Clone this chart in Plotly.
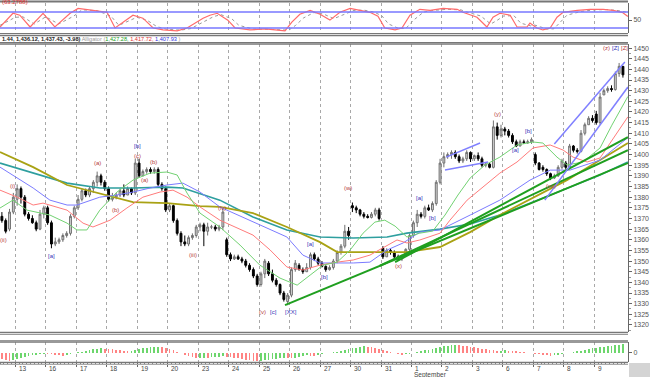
import plotly.graph_objects as go

# ---------------- data ----------------
day_labels = ["13", "16", "17", "18", "19", "20", "23", "24", "25", "26", "27",
              "30", "31", "1", "2", "3", "6", "7", "8", "9"]
month_label = "September"
month_label_day = 13          # index in day_labels where September starts
bars_per_day = 8
first_day_bar = 4

opens = [1371, 1369, 1365, 1373, 1379, 1384, 1380, 1372, 1370, 1368,
         1365, 1372, 1375, 1368, 1358, 1359, 1360, 1362, 1363, 1371,
         1375, 1379, 1383, 1381, 1384, 1387, 1390, 1387, 1384, 1379,
         1380, 1381, 1383, 1381, 1384, 1382, 1396, 1390, 1392, 1393,
         1392, 1393, 1386, 1384, 1374, 1376, 1369, 1363, 1359, 1358,
         1361, 1362, 1366, 1367, 1364, 1366, 1366, 1365, 1366, 1360,
         1353, 1351, 1352, 1351, 1350, 1348, 1346, 1343, 1339, 1344,
         1349, 1344, 1341, 1339, 1335, 1331, 1334, 1346, 1348, 1346,
         1345, 1347, 1353, 1351, 1349, 1347.5, 1346, 1347, 1350, 1354,
         1357, 1364, 1376, 1375, 1374, 1372, 1371, 1370.5, 1372, 1374,
         1356, 1352, 1355, 1354, 1352, 1351, 1352.5, 1355.5, 1362, 1368,
         1372, 1371, 1375, 1374, 1377, 1387, 1396, 1399, 1400, 1401,
         1399, 1397, 1398, 1401, 1398, 1399.5, 1398, 1395, 1395.5, 1394,
         1413, 1409, 1412, 1411, 1409, 1406, 1404, 1406, 1405.5, 1406,
         1400, 1396, 1394, 1393, 1391, 1389, 1390, 1394, 1396, 1394,
         1404, 1402, 1401.5, 1410, 1414, 1417, 1419, 1415, 1428, 1430,
         1431, 1430.5, 1438, 1441.41]
highs = [1373, 1370, 1374.5, 1382, 1386, 1385, 1381, 1373, 1371.5, 1369,
         1374, 1376, 1376, 1369, 1361, 1361, 1363, 1364, 1372, 1376,
         1381, 1384, 1384, 1385, 1388, 1392, 1391, 1388, 1385, 1382,
         1382, 1384, 1386, 1385, 1384.5, 1398, 1398, 1393, 1394, 1394,
         1394, 1394, 1387, 1385, 1377, 1376.5, 1370, 1364, 1362, 1362,
         1363, 1367, 1368, 1368, 1368, 1367, 1367, 1367, 1375, 1361,
         1354, 1353, 1353, 1352, 1351, 1349, 1347, 1344, 1345, 1351,
         1350, 1346, 1342, 1339.5, 1336, 1335, 1347, 1350.5, 1349, 1347,
         1349, 1354, 1354, 1352, 1350, 1348, 1348, 1351, 1355, 1358,
         1367, 1366, 1377.5, 1376, 1374.5, 1373, 1372, 1373, 1375, 1375,
         1357, 1356, 1356, 1355, 1353, 1353, 1356, 1363, 1369, 1374,
         1373, 1376, 1376.5, 1378, 1388, 1398, 1401, 1401, 1402, 1402,
         1400, 1399, 1402, 1401.5, 1400, 1401, 1399, 1396, 1396, 1416,
         1415, 1414, 1413, 1412, 1410, 1407, 1407, 1407, 1407, 1408,
         1401, 1396.5, 1395, 1393.5, 1391.5, 1391, 1395, 1398, 1397, 1405,
         1404.5, 1403, 1411.5, 1415, 1418, 1418.5, 1420.5, 1429, 1431, 1432,
         1432.5, 1439, 1443, 1441.44]
lows = [1368, 1363, 1364, 1372, 1376, 1377, 1371, 1369, 1367.5, 1364,
        1364.5, 1370, 1367, 1356, 1357, 1358, 1359, 1361, 1362, 1370,
        1374, 1378, 1380, 1380, 1382, 1385, 1385.5, 1383, 1378, 1378,
        1379, 1380, 1380, 1381, 1381, 1381, 1389, 1390, 1391, 1391,
        1391, 1385, 1383, 1373, 1373, 1368, 1362, 1357, 1357, 1357,
        1360, 1361, 1364, 1357, 1362, 1365, 1364, 1364, 1364.5, 1352,
        1350, 1350.5, 1350.5, 1349, 1347, 1345, 1342, 1338, 1338, 1342,
        1343, 1340, 1338, 1334, 1331, 1329.3, 1333, 1345, 1345.5, 1344,
        1345, 1346, 1350, 1348, 1347, 1345, 1345.5, 1346, 1349, 1353,
        1356, 1360, 1373, 1372.5, 1371, 1370, 1370, 1370, 1371, 1369,
        1351, 1352, 1353, 1351, 1350.5, 1350, 1352, 1354, 1361, 1366,
        1370, 1370, 1373.5, 1373, 1376, 1386, 1394, 1398, 1398, 1398,
        1396, 1396, 1397, 1396.5, 1397, 1397, 1394, 1394, 1393.5, 1393.5,
        1407, 1408, 1409, 1408, 1405, 1403.5, 1404, 1405, 1405, 1405,
        1395, 1392.5, 1392, 1390, 1388, 1388.5, 1389.5, 1393, 1393, 1393,
        1401, 1400.5, 1401, 1409, 1414, 1415, 1414, 1414, 1428, 1429,
        1429.5, 1430, 1436.5, 1436.12]
closes = [1369, 1364, 1373, 1380, 1384, 1380, 1372, 1370, 1368, 1365,
          1372, 1375, 1368, 1358, 1359, 1360, 1362, 1363, 1371, 1375,
          1379, 1383, 1381, 1384, 1387, 1390, 1387, 1384, 1379, 1380,
          1381, 1383, 1381, 1384, 1382, 1396, 1390, 1392, 1393, 1392,
          1393, 1386, 1384, 1374, 1376, 1369, 1363, 1359, 1358, 1361,
          1362, 1366, 1367, 1364, 1366, 1366, 1365, 1366, 1373, 1353,
          1351, 1352, 1351, 1350, 1348, 1346, 1343, 1339, 1344, 1350,
          1344, 1341, 1339, 1335, 1332, 1334, 1346, 1349, 1346, 1345,
          1347, 1353, 1351, 1349, 1347.5, 1346, 1347, 1350, 1354, 1357,
          1364, 1362, 1375, 1374, 1372, 1371, 1370.5, 1372, 1374, 1370,
          1352, 1355, 1354, 1352, 1351, 1352.5, 1355.5, 1362, 1368, 1372,
          1371, 1375, 1374, 1377, 1387, 1396, 1399, 1400, 1401, 1399,
          1397, 1398, 1401, 1398, 1399.5, 1398, 1395, 1395.5, 1394, 1413,
          1409, 1412, 1411, 1409, 1406, 1404, 1406, 1405.5, 1406, 1407,
          1396, 1393, 1393, 1391, 1389, 1390, 1394, 1397, 1394, 1404,
          1402, 1401.5, 1410, 1414, 1417, 1416, 1415, 1427, 1430, 1431,
          1430.5, 1438, 1441.41, 1437.43]

# moving averages: (bar position, price)
ma_olive_x = [-0.5, 8.2, 17.1, 25.7, 34.4, 43.3, 52, 57.2, 65.9, 74.8, 83.5, 88, 92.2,
              101.1, 106.3, 115, 122.9, 130.7, 139.4, 148.3, 157, 164.3]
ma_olive_y = [1401.2, 1394.1, 1385.7, 1381.9, 1377.7, 1377.2, 1375.8, 1375.4, 1372.5, 1366,
              1358.9, 1354.2, 1354.2, 1354.2, 1354.2, 1356.6, 1363.6, 1371.6, 1379.6, 1388,
              1397.4, 1405.4]
ma_teal_x = [-0.5, 8.2, 17.1, 25.7, 34.4, 43.3, 47.5, 57.2, 65.9, 74.8, 83.5, 92.2, 101.1,
             106.3, 115, 122.9, 130.7, 139.4, 148.3, 157, 164.3]
ma_teal_y = [1396, 1391.3, 1386.6, 1384.3, 1384.3, 1384.7, 1384.3, 1378.6, 1370.7, 1364.6,
             1361.3, 1360.8, 1361.3, 1363.1, 1365, 1367.4, 1371.6, 1377.7, 1384.3, 1390.4,
             1396.5]
# Alligator: jaw (blue), teeth (red), lips (green)
jaw_x = [-0.5, 4, 8.2, 12.6, 17.1, 19.7, 25.7, 30.2, 34.4, 38.9, 43.3, 47.5, 52, 57.2,
         65.9, 74.8, 79, 83.5, 92.2, 96.6, 101.1, 105.3, 109.7, 115, 122.9, 130.7, 138.6,
         143.9, 149.1, 157, 164.3]
jaw_y = [1394.1, 1389, 1384.3, 1378.6, 1376.3, 1376.3, 1380, 1381, 1382.4, 1384.3, 1385.7,
         1386.6, 1382.4, 1375.4, 1368.3, 1361.3, 1352.8, 1349.1, 1349.1, 1349.5, 1355.2,
         1358.5, 1363.6, 1364.6, 1371.6, 1378.6, 1388, 1392.7, 1392.7, 1397.4, 1407.93]
teeth_x = [-0.5, 4, 8.2, 10.8, 17.1, 21.3, 23.9, 28.4, 32.8, 37, 41.5, 44.9, 48.6, 52,
           57.2, 65.9, 70.4, 74.8, 79, 83.5, 88, 92.2, 96.6, 101.1, 103.7, 106.3, 109.7,
           115, 117.6, 122.1, 126.3, 130.7, 135.2, 139.4, 143.9, 147.3, 149.9, 153.6, 157,
           160.1, 164.3]
teeth_y = [1383.3, 1380, 1376.3, 1377.2, 1373.9, 1367.8, 1366, 1369.2, 1374.9, 1380,
           1382.4, 1383.3, 1380, 1375.4, 1369.2, 1362.2, 1355.2, 1347.2, 1345.8, 1348.1,
           1349.5, 1350.5, 1352.8, 1357.5, 1359.9, 1358.5, 1359.9, 1363.1, 1369.2, 1378.6,
           1384.7, 1391.3, 1396.5, 1403.1, 1404.5, 1402.1, 1398.8, 1396.5, 1398.4, 1406.8,
           1417.72]
lips_x = [-0.5, 2.9, 6.6, 12.6, 17.1, 19.7, 22.3, 25.7, 30.2, 34.4, 38.9, 43.3, 46, 48.6,
          52, 57.2, 62.5, 67.7, 73, 77.5, 80.9, 84.3, 88, 91.4, 94.8, 97.9, 100.5, 103.2,
          106.3, 109.7, 113.1, 116.3, 119.7, 122.9, 126.8, 130.7, 135.2, 139.4, 142, 145.7,
          148.3, 152.5, 157, 160.1, 164.3]
lips_y = [1374.9, 1378.6, 1373.9, 1371.6, 1367.8, 1364.6, 1364.6, 1373.9, 1382.4, 1388,
          1391.3, 1391.8, 1390.4, 1381.9, 1372.5, 1366, 1357.5, 1348.1, 1342, 1338.7,
          1343.4, 1348.1, 1349.5, 1355.2, 1363.1, 1368.3, 1369.2, 1366.4, 1361.3, 1363.1,
          1364.1, 1371.6, 1381, 1389, 1395.1, 1398.8, 1404.5, 1405.9, 1405.4, 1398.8,
          1395.1, 1396.5, 1403.1, 1413.8, 1427.28]

# drawn trend lines (bar, price) pairs
trend_green = [((74.3, 1329.3), (164.3, 1396.0)),
               ((103.2, 1349.5), (164.3, 1408.2)),
               ((99.2, 1347.8), (164.3, 1402.1))]
channel_blue = [((145.0, 1405.0), (163.5, 1443.4)),
                ((142.5, 1378.6), (164.3, 1431.7))]
wedge_blue = [((116.6, 1398.8), (125.5, 1405.4)),
              ((116.3, 1392.7), (127.6, 1396.5))]

# wave labels: text, bar, price, kind (r = red count, b = blue count)
wave_labels = [("(i)", 2.65, 1385.2, "r"), ("(ii)", 0.3, 1359.9, "r"),
               ("[a]", 13.1, 1352.3, "b"), ("(a)", 25.2, 1396.0, "r"),
               ("(b)", 29.7, 1373.9, "r"), ("[b]", 35.5, 1404.0, "b"),
               ("(c)", 35.7, 1399.3, "r"), ("(a)", 37.3, 1388.0, "r"),
               ("(b)", 39.9, 1396.5, "r"), ("(iii)", 50.2, 1352.8, "r"),
               ("(iv)", 57.8, 1374.9, "r"), ("(v)", 68.3, 1326.0, "r"),
               ("[c]", 71.2, 1326.0, "b"), ("[XX]", 75.9, 1326.0, "b"),
               ("[a]", 80.9, 1358.0, "b"), ("[b]", 84.8, 1342.5, "b"),
               ("(w)", 90.8, 1384.3, "r"), ("(x)", 104.0, 1347.7, "r"),
               ("[a]", 109.7, 1379.6, "b"), ("[b]", 113.1, 1370.2, "b"),
               ("(y)", 130.0, 1419.0, "r"), ("[a]", 134.7, 1402.1, "b"),
               ("[b]", 138.3, 1411.0, "b"), ("(xx)", 144.1, 1385.2, "r"),
               ("(z)", 158.6, 1450.0, "r"), ("[Z]", 161.0, 1450.0, "b"),
               ("[Z]", 163.5, 1450.0, "r")]

# oscillator (top panel)
osc_x = [-0.5, 2.9, 4.7, 7.4, 10.8, 13.9, 17.9, 20, 23.9, 27.6, 29.7, 31.8, 34.4, 37,
         39.7, 42.3, 46, 48.6, 51.2, 52.8, 54.6, 56.5, 59.3, 61.2, 65.1, 69.1, 71.7, 74.3,
         76.1, 78.2, 80.9, 83.5, 86.1, 88.7, 91.4, 94, 96.6, 98.7, 100.5, 103.2, 105, 107.1,
         109.7, 112.4, 115.8, 119.5, 121, 124.7, 127.3, 128.9, 130.7, 133.4, 135.2, 137.8,
         138.6, 140.4, 142, 143.9, 145.7, 147.3, 151, 154.4, 157.8, 160.4, 162.8, 164.3]
osc_y = [23.7, 75.2, 67.9, 23.7, 75.2, 23.7, 75.2, 93.6, 86.2, 78.9, 20.1, 42.1, 67.9, 56.8,
         20.1, 12.7, 9, 20.1, 42.1, 56.8, 67.9, 75.2, 49.5, 20.1, 12.7, 16.4, 12.7, 9, 42.1,
         71.5, 86.2, 71.5, 49.5, 78.9, 93.6, 86.2, 78.9, 64.2, 20.1, 12.7, 20.1, 67.9, 90,
         86.2, 93.6, 90, 78.9, 60.5, 23.7, 60.5, 75.2, 67.9, 23.7, 23.7, 38.4, 20.1, 12.7,
         20.1, 60.5, 78.9, 86.2, 90, 90, 86.2, 78.9, 63.3]
osc_sig_x = [-0.5, 3.5, 5.5, 8.5, 11.5, 14.9, 18.9, 21, 25, 28.6, 30.7, 33, 35.4, 38, 40.7,
             43.3, 47, 49.6, 52.2, 54, 55.6, 57.5, 60.3, 62.2, 66, 70, 73, 75.3, 77.1, 79.2,
             81.9, 84.5, 87.1, 89.7, 92.4, 95, 97.6, 99.7, 101.5, 104.2, 106, 108.1, 110.7,
             113.4, 116.8, 120.5, 122, 125.7, 128.3, 129.9, 131.7, 134.4, 136.2, 138.8,
             139.6, 141.4, 143, 144.9, 146.7, 148.3, 152, 155.4, 158.8, 161.4, 163.8, 164.3]
osc_sig_y = [30, 60, 62, 35, 62, 35, 65, 88, 85, 65, 30, 45, 60, 50, 25, 15, 12, 18, 38, 52,
             63, 70, 55, 30, 16, 15, 13, 12, 30, 58, 78, 72, 55, 70, 86, 87, 80, 66, 35, 18,
             18, 50, 80, 86, 90, 88, 80, 65, 35, 48, 65, 66, 38, 28, 32, 24, 16, 17, 45, 68,
             82, 88, 89, 86, 80, 75]
osc_levels = [80, 20]
osc_label = "(63.2788)"

# histogram (bottom panel)
hist = [-6, -7.5, -8.5, -7.5, -6.5, -5.5, -4.5, -3.5, -2.8, -2.2,
        -1.6, -1.0, -1.4, -1.8, -2.2, -2.6, -3.0, -2.4, -1.6, -0.8,
        0.2, 1.0, 1.8, 2.6, 3.2, 3.8, 4.3, 3.9, 3.5, 3.1,
        2.7, 2.3, 1.9, 1.5, 2.0, 2.7, 3.4, 4.1, 4.7, 5.2,
        5.6, 5.9, 5.3, 4.5, 3.5, 2.2, 0.8, -0.8, -2.3, -3.7,
        -4.9, -5.8, -5.4, -5.0, -5.2, -4.8, -4.4, -4.0, -3.6, -4.0,
        -4.6, -5.2, -5.8, -6.4, -7.0, -7.5, -8.0, -8.4, -8.0, -7.5,
        -7.0, -6.5, -6.0, -5.5, -5.1, -5.5, -5.9, -5.2, -4.4, -3.6,
        -2.8, -3.0, -3.2, -2.4, -1.6, -0.9, -0.4, 0.1, 1.0, 1.8,
        2.6, 3.4, 4.2, 5.0, 5.6, 6.1, 5.7, 5.1, 4.5, 3.8,
        3.0, 2.0, 0.9, -0.2, -1.2, -2.0, -1.6, -1.0, -0.3, 0.5,
        1.3, 2.1, 2.9, 3.7, 4.5, 5.3, 6.1, 6.8, 7.4, 7.9,
        7.5, 7.0, 6.4, 5.8, 5.2, 4.6, 4.0, 3.4, 2.8, 2.2,
        1.6, 1.9, 2.3, 2.0, 1.6, 1.2, 0.8, 0.4, 0.0, -0.6,
        -1.2, -1.8, -2.4, -2.8, -3.1, -2.6, -2.0, -1.4, -0.8, -0.2,
        0.5, 1.2, 2.0, 2.8, 3.5, 4.2, 4.8, 5.4, 6.0, 6.5,
        7.0, 7.4, 7.8, 8.1]

header_ohlc = "1.44, 1,436.12, 1,437.43, -3.98)"
alligator_name = "Alligator"
alligator_vals = ["1,427.28,", "1,417.72,", "1,407.93"]

# ---------------- layout helpers ----------------
W, H = 650, 377
PLOT_R = 628
n = len(closes)
bars = list(range(n))
x_range = [-0.5, PLOT_R / 3.81 - 0.5]


def py(p):
    return 1 - p / H


def px(p):
    return p / W


grid_pos = [first_day_bar - 0.5 + bars_per_day * k for k in range(len(day_labels))]

TOP_DOM = [py(33), py(3)]
MAIN_DOM = [py(332), py(44)]
HIST_DOM = [py(362), py(342)]
XDOM = [0, px(PLOT_R)]

fig = go.Figure()

# oscillator
fig.add_trace(go.Scatter(x=osc_sig_x, y=osc_sig_y, mode="lines",
                         line=dict(color="#999999", width=1, dash="dot"),
                         xaxis="x", yaxis="y", hoverinfo="skip"))
fig.add_trace(go.Scatter(x=osc_x, y=osc_y, mode="lines",
                         line=dict(color="#ff6b6b", width=1.2),
                         xaxis="x", yaxis="y", hoverinfo="skip"))
for lv in osc_levels:
    fig.add_trace(go.Scatter(x=x_range, y=[lv, lv], mode="lines",
                             line=dict(color="#7777ff", width=1.5),
                             xaxis="x", yaxis="y", hoverinfo="skip"))

# main: moving averages
for xs, ys, col, wd in [(ma_teal_x, ma_teal_y, "#2e9f9f", 1.6),
                        (ma_olive_x, ma_olive_y, "#a9a214", 1.8),
                        (jaw_x, jaw_y, "#7b7bff", 1),
                        (teeth_x, teeth_y, "#ff7b7b", 1),
                        (lips_x, lips_y, "#72d272", 1)]:
    fig.add_trace(go.Scatter(x=xs, y=ys, mode="lines", line=dict(color=col, width=wd),
                             xaxis="x2", yaxis="y2", hoverinfo="skip"))

for (a, b) in trend_green:
    fig.add_trace(go.Scatter(x=[a[0], b[0]], y=[a[1], b[1]], mode="lines",
                             line=dict(color="#1f9f1f", width=2),
                             xaxis="x2", yaxis="y2", hoverinfo="skip"))
for (a, b) in channel_blue + wedge_blue:
    fig.add_trace(go.Scatter(x=[a[0], b[0]], y=[a[1], b[1]], mode="lines",
                             line=dict(color="#8080ff", width=1.5),
                             xaxis="x2", yaxis="y2", hoverinfo="skip"))

fig.add_trace(go.Candlestick(
    x=bars, open=opens, high=highs, low=lows, close=closes,
    increasing=dict(line=dict(color="#707070", width=1), fillcolor="#d6d6d6"),
    decreasing=dict(line=dict(color="#000000", width=1), fillcolor="#000000"),
    whiskerwidth=0, xaxis="x2", yaxis="y2", hoverinfo="skip"))

# histogram
hist_colors = []
for i, v in enumerate(hist):
    up = i > 0 and v >= hist[i - 1]
    hist_colors.append("rgba(60,200,60,0.75)" if up else "rgba(255,90,90,0.75)")
fig.add_trace(go.Bar(x=bars, y=hist, marker=dict(color=hist_colors, line=dict(width=0)),
                     width=0.45, xaxis="x3", yaxis="y3", hoverinfo="skip"))

# ---------------- axes ----------------
xcommon = dict(range=x_range, domain=XDOM, showgrid=True, gridcolor="#a8a8a8",
               griddash="dot", gridwidth=1, tickmode="array", tickvals=grid_pos,
               zeroline=False, showline=False, showticklabels=False,
               rangeslider=dict(visible=False), fixedrange=True)

yfont = dict(size=7, color="#555", family="Liberation Sans")
fig.update_layout(
    width=W, height=H, margin=dict(l=0, r=0, t=0, b=0),
    paper_bgcolor="white", plot_bgcolor="white", showlegend=False,
    bargap=0,
    xaxis=dict(xcommon, anchor="y", ticks=""),
    xaxis2=dict(xcommon, anchor="y2", ticks="", matches="x"),
    xaxis3=dict(xcommon, anchor="y3", matches="x", ticks="outside", ticklen=4,
                tickcolor="#666",
                minor=dict(ticks="outside", ticklen=2, dtick=1, tick0=-0.5,
                           tickcolor="#888", showgrid=False)),
    yaxis=dict(domain=TOP_DOM, range=[1.25, 113.75], side="right", anchor="x",
               showgrid=False, zeroline=False, tickmode="array", tickvals=[50],
               ticktext=["50"], ticks="outside", ticklen=3, tickcolor="#666",
               tickfont=yfont, showline=True, linecolor="#666", fixedrange=True),
    yaxis2=dict(domain=MAIN_DOM, range=[1316.7, 1451.9], side="right", anchor="x2",
                showgrid=False, zeroline=False, tickmode="array",
                tickvals=list(range(1320, 1451, 5)),
                ticktext=[str(v) for v in range(1320, 1451, 5)],
                ticks="outside", ticklen=3, tickcolor="#666",
                minor=dict(ticks="outside", ticklen=2, dtick=2.5, tickcolor="#999"),
                tickfont=yfont, showline=True, linecolor="#666", fixedrange=True),
    yaxis3=dict(domain=HIST_DOM, range=[-9.5, 10.5], side="right", anchor="x3",
                showgrid=False, zeroline=False, tickmode="array", tickvals=[0],
                ticktext=["0"], ticks="outside", ticklen=3, tickcolor="#666",
                tickfont=yfont, showline=True, linecolor="#666", fixedrange=True),
)

# ---------------- frame lines ----------------
shapes = []
for yy, w, c in [(1.5, 2, "#777"), (33.5, 1, "#777"), (35.5, 1.5, "#777"),
                 (42.5, 1, "#777"), (44, 1.5, "#777"), (332.5, 1.5, "#777"),
                 (334.5, 1, "#999"), (340.5, 1, "#999"), (342, 1.5, "#777"),
                 (362.5, 1.5, "#777"), (364.5, 1, "#aaa")]:
    shapes.append(dict(type="line", xref="paper", yref="paper", x0=0, x1=px(PLOT_R),
                       y0=py(yy), y1=py(yy), line=dict(color=c, width=w)))
shapes.append(dict(type="rect", xref="paper", yref="paper", x0=px(PLOT_R + 1), x1=1,
                   y0=0, y1=py(363), fillcolor="#d4d4d4", line=dict(width=0)))
fig.update_layout(shapes=shapes)

# ---------------- text ----------------
ann = []
red_c, blue_c = "#b53b3b", "#3434b8"
for txt, bx, pr, kind in wave_labels:
    ann.append(dict(x=bx, y=pr, xref="x2", yref="y2", text=txt, showarrow=False,
                    font=dict(size=6, color=red_c if kind == "r" else blue_c,
                              family="Liberation Sans"),
                    xanchor="center", yanchor="middle"))

for k, lab in enumerate(day_labels):
    ann.append(dict(x=grid_pos[k] + 0.4, y=py(368), xref="x3", yref="paper", text=lab,
                    showarrow=False, xanchor="left", yanchor="middle",
                    font=dict(size=6.5, color="#444", family="Liberation Sans")))
ann.append(dict(x=grid_pos[month_label_day] + 0.2, y=py(374.5), xref="x3", yref="paper",
                text=month_label, showarrow=False, xanchor="left", yanchor="middle",
                font=dict(size=6.5, color="#444", family="Liberation Sans")))

header = ("<b>" + header_ohlc + "</b> "
          "<span style='color:#9a9a9a'>" + alligator_name + " (</span>"
          "<span style='color:#22a022'>" + alligator_vals[0] + "</span> "
          "<span style='color:#e03030'>" + alligator_vals[1] + "</span> "
          "<span style='color:#3030e0'>" + alligator_vals[2] + "</span>"
          "<span style='color:#9a9a9a'> )</span>")
ann.append(dict(x=0, y=py(38.5), xref="paper", yref="paper", text=header,
                showarrow=False, xanchor="left", yanchor="middle",
                font=dict(size=5.6, color="#222", family="Liberation Sans")))
ann.append(dict(x=0, y=py(2.5), xref="paper", yref="paper", text=osc_label,
                showarrow=False, xanchor="left", yanchor="middle",
                font=dict(size=6, color="#e03030", family="Liberation Sans")))
fig.update_layout(annotations=ann)

fig.write_html("out.html",
               config={"displayModeBar": False, "staticPlot": True},
               post_script="document.body.style.margin='0px';"
                           "document.body.style.overflow='hidden';")
